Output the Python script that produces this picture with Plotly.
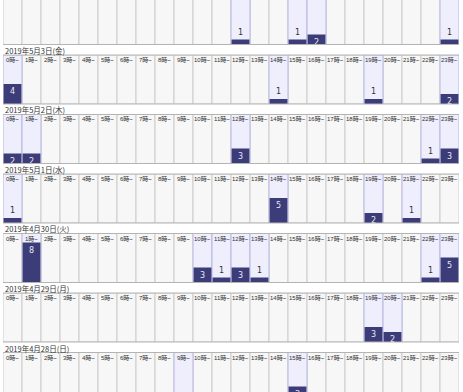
import plotly.graph_objects as go

# ---------------- data ----------------
HOURS = list(range(24))
HOUR_LABELS = [f"{h}時~" for h in HOURS]

DAY_LABELS = ["2019年5月4日(土)", "2019年5月3日(金)", "2019年5月2日(木)", "2019年5月1日(水)",
              "2019年4月30日(火)", "2019年4月29日(月)", "2019年4月28日(日)"]

counts_0504 = [0, 0, 0, 0, 0, 0, 0, 0, 0, 0, 0, 0, 1, 0, 0, 1, 2, 0, 0, 0, 0, 0, 0, 1]
counts_0503 = [4, 0, 0, 0, 0, 0, 0, 0, 0, 0, 0, 0, 0, 0, 1, 0, 0, 0, 0, 1, 0, 0, 0, 2]
counts_0502 = [2, 2, 0, 0, 0, 0, 0, 0, 0, 0, 0, 0, 3, 0, 0, 0, 0, 0, 0, 0, 0, 0, 1, 3]
counts_0501 = [1, 0, 0, 0, 0, 0, 0, 0, 0, 0, 0, 0, 0, 0, 5, 0, 0, 0, 0, 2, 0, 1, 0, 0]
counts_0430 = [0, 8, 0, 0, 0, 0, 0, 0, 0, 0, 3, 1, 3, 1, 0, 0, 0, 0, 0, 0, 0, 0, 1, 5]
counts_0429 = [0, 0, 0, 0, 0, 0, 0, 0, 0, 0, 0, 0, 0, 0, 0, 0, 0, 0, 0, 3, 2, 0, 0, 0]
counts_0428 = [0, 0, 0, 0, 0, 0, 0, 0, 0, 1, 0, 0, 0, 0, 0, 3, 0, 0, 0, 0, 0, 0, 0, 0]

DAYS = [counts_0504, counts_0503, counts_0502, counts_0501, counts_0430, counts_0429, counts_0428]

# ---------------- layout constants ----------------
W, H = 463, 392
X_LEFT, X_RIGHT = 3, 459
FIRST_BOTTOM = 44.5
PERIOD = 59.5
PX_PER_COUNT = 5
BODY_COUNTS = 8
HEADER_PX = 9
TABLE_UNITS = (BODY_COUNTS * PX_PER_COUNT + HEADER_PX) / PX_PER_COUNT
HEADER_MID = BODY_COUNTS + HEADER_PX / PX_PER_COUNT / 2

GRAY = "#f7f7f7"
GRAY_LINE = "#cccccc"
LAV = "#eeeefd"
LAV_LINE = "#b6b6e2"
BAR = "#3c3c78"
TEXT = "#333333"
JP = "Noto Sans CJK JP"
HDR_FONT = "Liberation Sans, Noto Sans CJK JP"

fig = go.Figure()
shapes = []
annotations = []

def py(px):
    return 1 - px / H

for k, counts in enumerate(DAYS):
    yname = "y" if k == 0 else f"y{k + 1}"
    ykey = "yaxis" if k == 0 else f"yaxis{k + 1}"
    bottom = FIRST_BOTTOM + PERIOD * k
    top = bottom - TABLE_UNITS * PX_PER_COUNT
    vis_top = max(top, 0)
    vis_bottom = min(bottom, H)
    fig.layout[ykey] = dict(
        domain=[py(vis_bottom), py(vis_top)],
        range=[(bottom - vis_bottom) / PX_PER_COUNT, (bottom - vis_top) / PX_PER_COUNT],
        visible=False, fixedrange=True,
    )

    gray_x = [h for h, c in zip(HOURS, counts) if c == 0]
    lav_x = [h for h, c in zip(HOURS, counts) if c > 0]
    fig.add_trace(go.Bar(
        x=gray_x, y=[TABLE_UNITS] * len(gray_x), width=1, yaxis=yname, xaxis="x",
        marker=dict(color=GRAY, line=dict(color=GRAY_LINE, width=1)),
        hoverinfo="skip", showlegend=False,
    ))
    fig.add_trace(go.Bar(
        x=lav_x, y=[TABLE_UNITS] * len(lav_x), width=1, yaxis=yname, xaxis="x",
        marker=dict(color=LAV, line=dict(color=LAV_LINE, width=1)),
        hoverinfo="skip", showlegend=False,
    ))
    vals = [c for c in counts if c > 0]
    fig.add_trace(go.Bar(
        x=lav_x, y=vals, width=0.94, yaxis=yname, xaxis="x",
        marker=dict(color=BAR, line=dict(width=0)),
        text=[str(v) for v in vals],
        textposition=["inside" if v >= 2 else "outside" for v in vals],
        textangle=0,
        insidetextanchor="end",
        insidetextfont=dict(color="#e8e8f4", size=8, family="DejaVu Sans"),
        outsidetextfont=dict(color=TEXT, size=8, family="DejaVu Sans"),
        cliponaxis=False, hoverinfo="skip", showlegend=False,
    ))

    if top >= 0:
        for h, lab in zip(HOURS, HOUR_LABELS):
            annotations.append(dict(
                x=h, y=HEADER_MID, xref="x", yref=yname, text=lab, showarrow=False,
                font=dict(size=6, color=TEXT, family=HDR_FONT), xanchor="center", yanchor="middle",
            ))

    # table borders
    for ypx in (top, bottom):
        if 0 <= ypx <= H:
            shapes.append(dict(type="line", xref="paper", yref="paper",
                               x0=X_LEFT / W, x1=X_RIGHT / W, y0=py(ypx), y1=py(ypx),
                               line=dict(color="#b4b4b4", width=1)))
    label_px = top - 4.5
    if label_px > 4:
        annotations.append(dict(
            x=X_LEFT / W, y=py(label_px), xref="paper", yref="paper", text=DAY_LABELS[k],
            showarrow=False, xanchor="left", yanchor="middle",
            font=dict(size=7.5, color=TEXT, family=JP),
        ))

fig.update_layout(
    width=W, height=H, autosize=False,
    margin=dict(l=0, r=0, t=0, b=0, pad=0),
    paper_bgcolor="white", plot_bgcolor="white",
    barmode="overlay",
    xaxis=dict(domain=[X_LEFT / W, X_RIGHT / W], range=[-0.5, 23.5], visible=False, fixedrange=True),
    uniformtext=dict(minsize=8, mode="show"),
    shapes=shapes, annotations=annotations,
)

fig.write_html(
    "out.html",
    config={"displayModeBar": False},
    post_script="document.body.style.margin='0';document.body.style.overflow='hidden';",
)
